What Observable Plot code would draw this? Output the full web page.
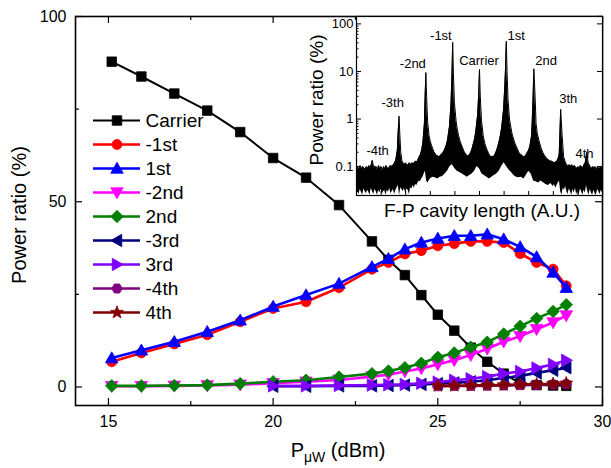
<!DOCTYPE html>
<html>
<head>
<meta charset="utf-8">
<script src="https://cdn.jsdelivr.net/npm/d3@7"></script>
<script src="https://cdn.jsdelivr.net/npm/@observablehq/plot@0.6"></script>
<style>
  html, body { margin: 0; padding: 0; background: white; }
  #wrap { position: relative; width: 611px; height: 468px; overflow: hidden; font-family: "Liberation Sans", Arial, sans-serif; }
  #wrap > * { position: absolute; }
</style>
</head>
<body>
<div id="wrap"></div>
<script>
// ---------------- Main chart data ----------------
const xAll = [15.1, 16, 17, 18, 19, 20, 21, 22, 23, 23.5, 24, 24.5, 25, 25.5, 26, 26.5, 27, 27.5, 28, 28.5, 28.9];
const xFrom20 = [20, 21, 22, 23, 23.5, 24, 24.5, 25, 25.5, 26, 26.5, 27, 27.5, 28, 28.5, 28.9];
const xFrom25 = [25, 25.5, 26, 26.5, 27, 27.5, 28, 28.5, 28.9];

const carrier = [87.8, 83.8, 79.2, 74.6, 68.8, 61.8, 56.5, 49.1, 39.3, 34.3, 30.2, 24.8, 19.5, 15.2, 10.6, 6.8, 3.6, 1.0, 0.5, 0.4, 0.3];
const minus1  = [6.8, 9.2, 11.6, 14.1, 17.6, 21.2, 23.0, 26.8, 31.8, 33.6, 35.9, 36.8, 38.1, 38.7, 39.3, 39.3, 39.0, 36.0, 33.6, 31.8, 27.3];
const plus1   = [7.8, 9.9, 12.2, 14.9, 18.0, 21.7, 24.8, 27.9, 32.4, 34.6, 37.2, 39.0, 40.1, 40.8, 40.8, 41.2, 39.9, 37.8, 35.1, 30.9, 26.8];
const minus2  = [0.2, 0.2, 0.3, 0.4, 0.6, 1.0, 1.4, 1.9, 2.8, 3.3, 4.2, 5.0, 6.1, 7.2, 8.6, 10.3, 12.2, 13.7, 15.6, 17.4, 19.3];
const plus2   = [0.3, 0.3, 0.4, 0.5, 0.9, 1.4, 1.8, 2.7, 3.6, 4.3, 5.2, 6.4, 8.0, 9.2, 10.7, 12.1, 14.3, 16.4, 18.5, 20.4, 22.2];
const minus3  = [0.2, 0.2, 0.3, 0.3, 0.4, 0.5, 0.7, 0.9, 1.1, 1.4, 1.8, 2.4, 3.0, 3.8, 4.5, 5.2];
const plus3   = [0.3, 0.3, 0.4, 0.5, 0.6, 0.7, 1.0, 1.3, 1.8, 2.2, 2.8, 3.6, 4.2, 5.1, 6.1, 7.2];
const minus4  = [0.2, 0.25, 0.3, 0.35, 0.4, 0.5, 0.55, 0.65, 0.75];
const plus4   = [0.3, 0.35, 0.4, 0.5, 0.55, 0.65, 0.75, 0.85, 1.0];

const seriesNames  = ["Carrier", "-1st", "1st", "-2nd", "2nd", "-3rd", "3rd", "-4th", "4th"];
const seriesColors = ["#000000", "#ff0000", "#0000ff", "#ff00ff", "#008000", "#000080", "#8000ff", "#800080", "#800000"];
const seriesShapes = ["square", "circle", "up", "down", "diamond", "left", "right", "hexagon", "star"];
const seriesX      = [xAll, xAll, xAll, xAll, xAll, xFrom20, xFrom20, xFrom25, xFrom25];
const seriesY      = [carrier, minus1, plus1, minus2, plus2, minus3, plus3, minus4, plus4];

const xTicks = [15, 20, 25, 30];
const xMinor = [17.5, 22.5, 27.5];
const yTicks = [0, 50, 100];
const yMinor = [25, 75];

// ---------------- Inset data ----------------
const peakLabels = ["-4th", "-3th", "-2nd", "-1st", "Carrier", "1st", "2nd", "3th", "4th"];
const labelX = [0.86, 1.47, 2.29, 3.43, 4.98, 6.49, 7.71, 8.61, 9.27];
const labelY = [0.21, 2.2, 14.5, 57, 16.8, 57, 16.8, 2.65, 0.19];
// upper envelope of the trace
const upX = [0.0,0.05,0.1,0.15,0.2,0.25,0.3,0.35,0.4,0.45,0.5,0.55,0.6,0.64,0.68,0.75,0.8,0.85,0.9,0.95,1.0,1.05,1.1,1.15,1.2,1.25,1.3,1.35,1.4,1.45,1.5,1.55,1.6,1.66,1.70,1.73,1.76,1.80,1.85,1.9,1.95,2.0,2.05,2.1,2.15,2.2,2.25,2.3,2.35,2.4,2.45,2.5,2.55,2.6,2.65,2.7,2.76,2.79,2.82,2.85,2.89,2.95,3.0,3.05,3.1,3.15,3.2,3.25,3.3,3.35,3.4,3.45,3.5,3.55,3.6,3.65,3.7,3.78,3.84,3.88,3.91,3.94,3.98,4.05,4.1,4.15,4.22,4.3,4.37,4.45,4.5,4.55,4.6,4.65,4.7,4.75,4.8,4.85,4.93,4.97,5.0,5.03,5.08,5.15,5.22,5.3,5.37,5.45,5.5,5.55,5.6,5.65,5.7,5.75,5.8,5.85,5.9,5.98,6.03,6.06,6.09,6.12,6.16,6.22,6.27,6.32,6.4,6.45,6.52,6.6,6.67,6.75,6.8,6.85,6.9,6.95,7.0,7.05,7.12,7.15,7.18,7.21,7.26,7.3,7.35,7.42,7.5,7.57,7.65,7.72,7.8,7.87,7.95,8.02,8.1,8.15,8.2,8.24,8.27,8.3,8.36,8.42,8.5,8.55,8.6,8.65,8.7,8.75,8.8,8.85,8.9,8.95,9.0,9.05,9.1,9.15,9.2,9.25,9.3,9.36,9.42,9.5,9.55,9.6,9.65,9.7,9.75,9.8,9.85,9.9,9.95,10.0];
const upY = [0.085,0.1,0.08,0.105,0.09,0.1,0.095,0.085,0.1,0.09,0.105,0.095,0.11,0.135,0.11,0.095,0.1,0.085,0.105,0.09,0.1,0.08,0.1,0.09,0.105,0.095,0.09,0.1,0.105,0.1,0.11,0.12,0.14,0.22,0.6,1.15,0.5,0.2,0.13,0.12,0.11,0.12,0.105,0.11,0.12,0.11,0.12,0.115,0.12,0.13,0.125,0.14,0.16,0.18,0.22,0.32,0.8,3,9.5,3,0.9,0.45,0.34,0.28,0.24,0.2,0.19,0.17,0.17,0.16,0.17,0.18,0.19,0.21,0.24,0.28,0.36,0.7,2,8,41,9,2.2,0.9,0.6,0.45,0.33,0.26,0.21,0.18,0.17,0.17,0.18,0.2,0.24,0.3,0.38,0.55,1.3,3.6,11,3.2,0.95,0.45,0.3,0.23,0.19,0.16,0.165,0.16,0.17,0.19,0.22,0.27,0.34,0.45,0.65,1.6,5,12,43,10,2.6,1.0,0.7,0.5,0.36,0.3,0.25,0.2,0.18,0.17,0.16,0.165,0.18,0.2,0.22,0.27,0.45,1.1,3,11.4,3,0.8,0.5,0.35,0.25,0.2,0.17,0.15,0.14,0.13,0.13,0.12,0.125,0.13,0.15,0.18,0.5,1.6,0.45,0.16,0.12,0.11,0.1,0.11,0.1,0.11,0.095,0.105,0.1,0.09,0.1,0.09,0.105,0.1,0.095,0.11,0.12,0.2,0.12,0.1,0.09,0.1,0.095,0.1,0.085,0.1,0.09,0.095,0.1,0.09];
// lower envelope of the trace
const loX = [0.0,0.05,0.1,0.15,0.2,0.25,0.3,0.35,0.4,0.45,0.5,0.55,0.6,0.65,0.7,0.75,0.8,0.85,0.9,0.95,1.0,1.05,1.1,1.15,1.2,1.25,1.3,1.35,1.4,1.45,1.5,1.55,1.6,1.65,1.7,1.75,1.8,1.85,1.9,1.95,2.0,2.05,2.1,2.15,2.2,2.25,2.3,2.35,2.4,2.45,2.5,2.55,2.6,2.65,2.7,2.75,2.8,2.85,2.9,2.95,3.0,3.1,3.2,3.3,3.4,3.5,3.6,3.7,3.8,3.9,4.0,4.1,4.2,4.3,4.4,4.5,4.6,4.7,4.8,4.9,5.0,5.1,5.2,5.3,5.4,5.5,5.6,5.7,5.8,5.9,6.0,6.1,6.2,6.3,6.4,6.5,6.6,6.7,6.8,6.9,7.0,7.1,7.2,7.3,7.4,7.5,7.6,7.7,7.8,7.9,8.0,8.05,8.1,8.15,8.2,8.25,8.3,8.35,8.4,8.45,8.5,8.55,8.6,8.65,8.7,8.75,8.8,8.85,8.9,8.95,9.0,9.05,9.1,9.15,9.2,9.25,9.3,9.35,9.4,9.45,9.5,9.55,9.6,9.65,9.7,9.75,9.8,9.85,9.9,9.95,10.0];
const loY = [0.035,0.03,0.026,0.033,0.029,0.025,0.034,0.03,0.027,0.032,0.029,0.025,0.035,0.03,0.026,0.033,0.03,0.025,0.032,0.028,0.034,0.026,0.03,0.031,0.025,0.032,0.029,0.035,0.027,0.03,0.033,0.026,0.032,0.036,0.04,0.025,0.036,0.033,0.03,0.035,0.027,0.034,0.032,0.026,0.036,0.034,0.04,0.035,0.042,0.04,0.045,0.05,0.048,0.055,0.06,0.07,0.08,0.05,0.045,0.05,0.055,0.06,0.058,0.055,0.06,0.062,0.07,0.08,0.1,0.11,0.09,0.08,0.075,0.07,0.065,0.06,0.065,0.07,0.08,0.1,0.09,0.07,0.065,0.06,0.055,0.06,0.065,0.07,0.08,0.1,0.12,0.1,0.085,0.075,0.065,0.06,0.058,0.06,0.055,0.065,0.08,0.07,0.05,0.048,0.045,0.05,0.046,0.042,0.04,0.044,0.038,0.042,0.035,0.04,0.045,0.05,0.03,0.025,0.035,0.032,0.038,0.03,0.026,0.034,0.03,0.025,0.033,0.028,0.035,0.026,0.03,0.025,0.034,0.03,0.025,0.032,0.028,0.04,0.03,0.025,0.033,0.028,0.025,0.032,0.027,0.025,0.033,0.03,0.026,0.032,0.028];
const insetXTicks = [0,1,2,3,4,5,6,7,8,9,10];
const insetYTicks = [0.1, 1, 10, 100];
const insetYMinor = [0.03,0.04,0.05,0.06,0.07,0.08,0.09,0.2,0.3,0.4,0.5,0.6,0.7,0.8,0.9,2,3,4,5,6,7,8,9,20,30,40,50,60,70,80,90];

// ---------------- Custom symbols ----------------
function makeSymbol(kind) {
  return {
    draw(ctx, size) {
      const r = Math.sqrt(size / Math.PI);
      if (kind === "square") { const h = 0.95 * r; ctx.rect(-h, -h, 2 * h, 2 * h); }
      else if (kind === "circle") { ctx.moveTo(r, 0); ctx.arc(0, 0, r, 0, 2 * Math.PI); }
      else if (kind === "diamond") { const h = 1.25 * r; ctx.moveTo(0, -h); ctx.lineTo(h, 0); ctx.lineTo(0, h); ctx.lineTo(-h, 0); ctx.closePath(); }
      else if (kind === "hexagon") { const h = 1.05 * r; for (let i = 0; i < 6; i++) { const a = Math.PI / 3 * i; const px = h * Math.cos(a), py = h * Math.sin(a); i ? ctx.lineTo(px, py) : ctx.moveTo(px, py); } ctx.closePath(); }
      else if (kind === "star") { const ro = 1.35 * r, ri = 0.55 * r; for (let i = 0; i < 10; i++) { const a = -Math.PI / 2 + Math.PI / 5 * i; const rr = i % 2 ? ri : ro; const px = rr * Math.cos(a), py = rr * Math.sin(a); i ? ctx.lineTo(px, py) : ctx.moveTo(px, py); } ctx.closePath(); }
      else {
        const w = 1.25 * r, t = 1.25 * r, b = 0.95 * r; // triangle pointing up
        let pts = [[0, -t], [w, b], [-w, b]];
        const rot = {up: 0, down: Math.PI, left: -Math.PI / 2, right: Math.PI / 2}[kind];
        pts = pts.map(([px, py]) => [px * Math.cos(rot) - py * Math.sin(rot), px * Math.sin(rot) + py * Math.cos(rot)]);
        ctx.moveTo(pts[0][0], pts[0][1]); ctx.lineTo(pts[1][0], pts[1][1]); ctx.lineTo(pts[2][0], pts[2][1]); ctx.closePath();
      }
    }
  };
}

const font = "'Liberation Sans', Arial, sans-serif";
const wrap = document.getElementById("wrap");

// ---------------- Main plot ----------------
const rows = seriesNames.flatMap((name, i) => seriesX[i].map((x, j) => ({name, i, x, y: seriesY[i][j]})));
const fh = 468 - 16 - 63; // frame height
const fw = 611 - 75 - 9;  // frame width

const seriesMarks = seriesNames.flatMap((name, i) => {
  const d = rows.filter(r => r.i === i);
  return [
    Plot.line(d, {x: "x", y: "y", stroke: seriesColors[i], strokeWidth: i === 0 ? 2 : 2.6}),
    Plot.dot(d, {x: "x", y: "y", r: 5, symbol: makeSymbol(seriesShapes[i]), fill: seriesColors[i], stroke: seriesColors[i], strokeWidth: 0.8})
  ];
});

const main = Plot.plot({
  width: 611, height: 468,
  marginLeft: 75, marginRight: 9, marginTop: 16, marginBottom: 63,
  x: {domain: [14, 30]},
  y: {domain: [-5, 100]},
  style: {fontFamily: font, fontSize: "16px", background: "white", color: "black", overflow: "visible"},
  marks: [
    Plot.axisX({ticks: xTicks, tickSize: 0, tickPadding: 10, label: null, fontSize: 16}),
    Plot.axisY({ticks: yTicks, tickSize: 0, tickPadding: 9, label: null, fontSize: 16}),
    Plot.ruleX(xTicks, {stroke: "black", strokeWidth: 1.2, insetTop: fh - 7}),
    Plot.ruleX(xTicks, {stroke: "black", strokeWidth: 1.2, insetBottom: fh - 7}),
    Plot.ruleX(xMinor, {stroke: "black", strokeWidth: 1.2, insetTop: fh - 4}),
    Plot.ruleX(xMinor, {stroke: "black", strokeWidth: 1.2, insetBottom: fh - 4}),
    Plot.ruleY(yTicks, {stroke: "black", strokeWidth: 1.2, insetRight: fw - 7}),
    Plot.ruleY(yTicks, {stroke: "black", strokeWidth: 1.2, insetLeft: fw - 7}),
    Plot.ruleY(yMinor, {stroke: "black", strokeWidth: 1.2, insetRight: fw - 4}),
    Plot.ruleY(yMinor, {stroke: "black", strokeWidth: 1.2, insetLeft: fw - 4}),
    ...seriesMarks,
    Plot.frame({stroke: "black", strokeWidth: 1.6})
  ]
});
main.style.left = "0px"; main.style.top = "0px";
wrap.appendChild(main);

// ---------------- Legend ----------------
const legendRows = seriesNames.map((name, i) => ({name, i}));
const legend = Plot.plot({
  width: 130, height: 225, margin: 0,
  x: {domain: [0, 1], range: [5, 52], axis: null},
  y: {type: "point", domain: seriesNames, range: [11, 11 + 8 * 24.5], padding: 0, axis: null},
  style: {fontFamily: font, background: "transparent", overflow: "visible"},
  marks: [
    Plot.ruleY(legendRows, {y: "name", x1: 0, x2: 1, stroke: d => seriesColors[d.i], strokeWidth: d => d.i === 0 ? 2 : 2.6}),
    ...legendRows.map(d => Plot.dot([d], {x: 0.5, y: "name", r: 5, symbol: makeSymbol(seriesShapes[d.i]), fill: seriesColors[d.i], stroke: seriesColors[d.i], strokeWidth: 0.8})),
    Plot.text(legendRows, {x: 1, y: "name", text: "name", dx: 5, textAnchor: "start", fontSize: 19, fill: "black"})
  ]
});
legend.style.left = "88px"; legend.style.top = "107px";
wrap.appendChild(legend);

// ---------------- Inset ----------------
const upRows = upX.map((x, j) => ({x, y: upY[j]}));
const loRows = loX.map((x, j) => ({x, y: loY[j]}));
const ifw = 246, ifh = 179;
const inset = Plot.plot({
  width: 48 + 246 + 9, height: 1 + 179 + 30,
  marginLeft: 48, marginRight: 9, marginTop: 1, marginBottom: 30,
  x: {domain: [0, 10]},
  y: {type: "log", domain: [0.0247, 143]},
  style: {fontFamily: font, background: "transparent", color: "black", overflow: "visible"},
  marks: [
    Plot.frame({fill: "white"}),
    Plot.areaY(upRows, {x: "x", y1: 0.0247, y2: "y", fill: "black", clip: true}),
    Plot.lineY(upRows, {x: "x", y: "y", stroke: "black", strokeWidth: 1, clip: true}),
    Plot.areaY(loRows, {x: "x", y1: 0.0247, y2: "y", fill: "white", clip: true}),
    Plot.axisX({ticks: [], label: null}),
    Plot.axisY({ticks: insetYTicks, tickFormat: d => String(d), tickSize: 0, tickPadding: 3, fontSize: 13, label: null}),
    Plot.ruleX(insetXTicks, {stroke: "black", insetTop: ifh - 4}),
    Plot.ruleY(insetYTicks, {stroke: "black", insetRight: ifw - 5}),
    Plot.ruleY(insetYMinor, {stroke: "black", insetRight: ifw - 2.5}),
    Plot.ruleY(insetYTicks, {stroke: "black", insetLeft: ifw - 5}),
    Plot.text(peakLabels, {x: (d, i) => labelX[i], y: (d, i) => labelY[i], text: d => d, fontSize: 13, fill: "black"}),
    Plot.frame({stroke: "black", strokeWidth: 1.2})
  ]
});
inset.style.left = (356 - 48) + "px"; inset.style.top = "15px";
wrap.appendChild(inset);

// ---------------- Axis titles ----------------
const ov = d3.create("svg").attr("width", 611).attr("height", 468).style("pointer-events", "none").style("left", "0px").style("top", "0px");
ov.append("text").attr("transform", "translate(26,215) rotate(-90)").attr("text-anchor", "middle")
  .attr("font-family", font).attr("font-size", 20).text("Power ratio (%)");
const xl = ov.append("text").attr("x", 338).attr("y", 457).attr("text-anchor", "middle").attr("font-family", font).attr("font-size", 20);
xl.append("tspan").text("P");
xl.append("tspan").attr("font-size", 14).attr("dy", 5).text("μW");
xl.append("tspan").attr("dy", -5).text(" (dBm)");
ov.append("text").attr("transform", "translate(323,100) rotate(-90)").attr("text-anchor", "middle")
  .attr("font-family", font).attr("font-size", 19).text("Power ratio (%)");
ov.append("text").attr("x", 482).attr("y", 217).attr("text-anchor", "middle")
  .attr("font-family", font).attr("font-size", 19).text("F-P cavity length (A.U.)");
wrap.appendChild(ov.node());
</script>
</body>
</html>
